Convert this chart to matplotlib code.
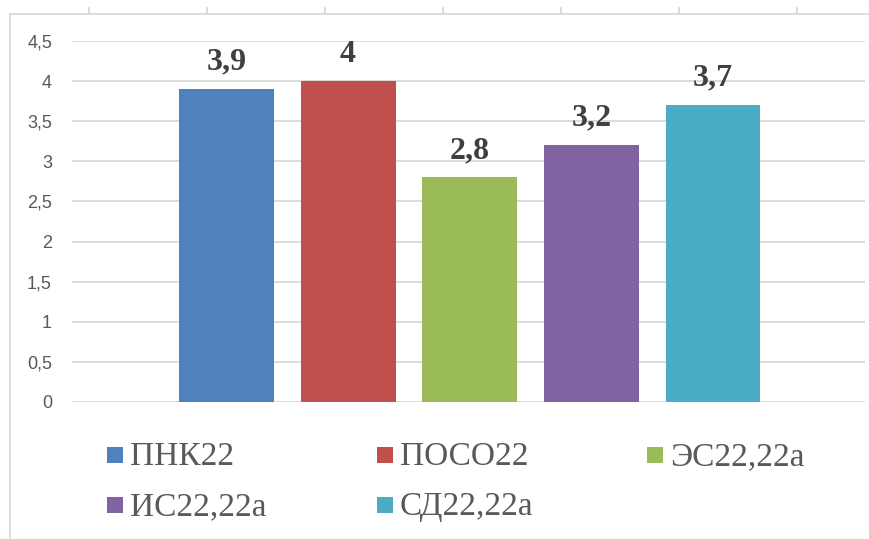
import matplotlib
matplotlib.use('Agg')
import matplotlib.pyplot as plt
from matplotlib.lines import Line2D
from matplotlib.patches import Rectangle

# data
names = ['ПНК22', 'ПОСО22', 'ЭС22,22а', 'ИС22,22а', 'СД22,22а']
values = [3.9, 4.0, 2.8, 3.2, 3.7]
colors = ['#4f81bd', '#c0504d', '#9bbb59', '#8064a2', '#4bacc6']
yticks = [0, 0.5, 1, 1.5, 2, 2.5, 3, 3.5, 4, 4.5]

serif = ['Liberation Serif', 'DejaVu Serif']

W, H = 869, 539
fig = plt.figure(figsize=(W / 100, H / 100), dpi=100)
ax = fig.add_axes([72 / W, 1 - 402 / H, 793 / W, 361 / H])

xs = list(range(len(values)))
bars = ax.bar(xs, values, width=0.78, color=colors, zorder=3)
ax.set_xlim(-1.27, 5.25)
ax.set_ylim(0, 4.5)

# value labels
for x, v in zip(xs, values):
    txt = ('%g' % v).replace('.', ',')
    ax.annotate(txt, (x, v), xytext=(0, 14), textcoords='offset points',
                ha='center', va='baseline', fontsize=23, fontweight='bold',
                fontfamily=serif, color='#404040')

# axes styling
ax.set_yticks(yticks)
ax.set_yticklabels([('%g' % t).replace('.', ',') for t in yticks],
                   fontfamily='Liberation Sans', fontsize=13, color='#595959')
ax.tick_params(axis='y', length=0, pad=14.4)
ax.set_xticks([])
ax.grid(axis='y', color='#d9d9d9', linewidth=1.3, zorder=0)
for s in ax.spines.values():
    s.set_visible(False)

# frame of the chart area (cropped)
fig.add_artist(Line2D([10 / W, 1], [1 - 14 / H, 1 - 14 / H], color='#d9d9d9', lw=1.3))
fig.add_artist(Line2D([10 / W, 10 / W], [0, 1 - 14 / H], color='#d9d9d9', lw=1.3))
for k in range(7):
    xp = (89 + 118 * k) / W
    fig.add_artist(Line2D([xp, xp], [1 - 8 / H, 1 - 14 / H], color='#d9d9d9', lw=1.3))

# legend, row-wise in 3 columns
for i, (name, c) in enumerate(zip(names, colors)):
    col, row = i % 3, i // 3
    mx = 107 + 270 * col
    my = 455 + 50 * row
    fig.add_artist(Rectangle((mx / W, 1 - (my + 8) / H), 16 / W, 16 / H,
                             transform=fig.transFigure, facecolor=c, edgecolor='none'))
    fig.text((mx + 23) / W, 1 - (my + 10) / H, name, fontfamily=serif,
             fontsize=24, color='#595959', va='baseline', ha='left')

fig.savefig('out.png', dpi=100)
